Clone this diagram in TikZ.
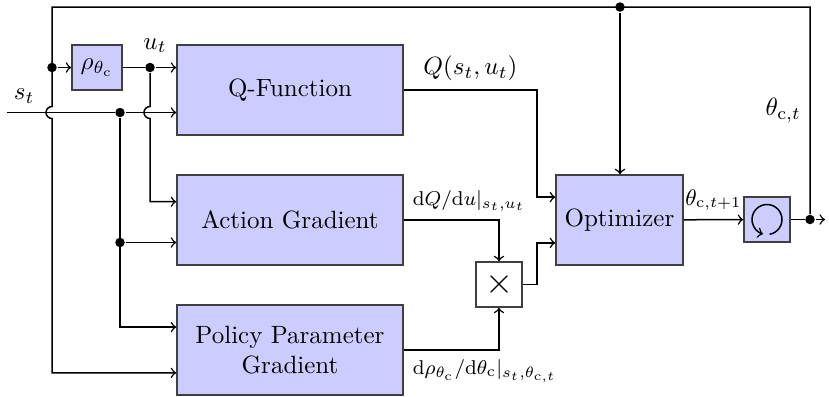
\documentclass[tikz,border=0pt]{standalone}
\usetikzlibrary{calc}

\begin{document}
\begin{tikzpicture}[x=0.4pt, y=-0.4pt, >=to, semithick,
    block/.style={draw=black!75, fill=blue!20, minimum width=90.4pt, minimum height=36pt, align=center, inner sep=2pt},
    smallblock/.style={block, minimum width=18.4pt, minimum height=18pt},
    junction/.style={circle, fill, inner sep=0pt, minimum size=3.8pt}]
    \useasboundingbox (0,0) rectangle (829,396);

    % Blocks
    \node[block] (qf) at (290,90) {Q-Function};
    \node[block] (ag) at (290,220) {Action Gradient};
    \node[block] (ppg) at (290,350) {Policy Parameter\\Gradient};
    \node[block, minimum width=50.8pt] (opt) at (619.5,220) {Optimizer};
    \node[smallblock, minimum width=20pt] (rho) at (97,67.5) {$\rho_{\theta_\mathrm{c}}$};
    \node[smallblock, fill=white] (mult) at (499,284.5) {\Large$\times$};
    \node[smallblock] (delay) at (767,219.5) {};

    % Junctions and end points
    \coordinate (sin) at (7,112.5);
    \coordinate (tl) at (52,7);
    \coordinate (tr) at (810,7);
    \coordinate (out) at (825,219.5);
    \coordinate (bend) at (537,90);
    \node[junction] (jrho) at (52,67.5) {};
    \node[junction, label={[xshift=2pt]above:$u_t$}] (ju) at (150,67.5) {};
    \node[junction] (js) at (120,112.5) {};
    \node[junction] (jag) at (120,242.5) {};
    \node[junction] (jtop) at (620,7) {};
    \node[junction] (jout) at (810,219.5) {};

    % Input ports
    \coordinate (agup) at ($(ag.west)!0.4!(ag.north west)$);
    \coordinate (ppgup) at ($(ppg.west)!0.5!(ppg.north west)$);
    \coordinate (ppglow) at ($(ppg.west)!0.5!(ppg.south west)$);
    \coordinate (optup) at ($(opt.west)!0.5!(opt.north west)$);
    \coordinate (optlow) at ($(opt.west)!0.5!(opt.south west)$);

    % State
    \draw[->] (sin) -- node[above, pos=0.16]{$s_t$} (js) -- (js -| qf.west);
    \draw[->] (js) -- (js |- ppgup) -- (ppgup);
    \draw[->] (jag) -- (jag -| ag.west);

    % Action
    \draw[->] (jrho) -- (rho);
    \draw (rho) -- (ju);
    \draw[->] (ju) -- (ju -| qf.west);
    \draw[->] (ju) -- ($(ju |- js)+(0,-6)$) arc[start angle=90, end angle=270, radius=2.4pt]
        -- (ju |- agup) -- (agup);

    % Parameter feedback
    \draw[->] (jout) -- node[left]{$\theta_{\mathrm{c},t}$} (tr) -- (tl)
        -- ($(tl |- js)+(0,-6)$) arc[start angle=90, end angle=270, radius=2.4pt]
        -- (tl |- ppglow) -- (ppglow);
    \draw[->] (jtop) -- (jtop |- opt.north);

    % Gradients
    \draw[->] (qf.east) -- node[above]{$Q(s_t,u_t)$} (bend) -- (bend |- optup) -- (optup);
    \draw[->] (ag.east) node[above right, font=\footnotesize]{$\mathrm{d}Q/\mathrm{d}u|_{s_t,u_t}$}
        -- (ag.east -| mult) -- (mult);
    \draw[->] (ppg.east) node[below right, font=\footnotesize]{$\mathrm{d}\rho_{\theta_\mathrm{c}}/\mathrm{d}\theta_\mathrm{c}|_{s_t,\theta_{\mathrm{c},t}}$}
        -- (ppg.east -| mult) -- (mult);
    \draw[->] (mult) -- (mult -| bend) -- (bend |- optlow) -- (optlow);

    % Update and delay
    \draw[->] (opt) -- node[above, font=\small]{$\theta_{\mathrm{c},t+1}$} (delay);
    \draw[->] ([shift={(-80:6pt)}]delay.center) arc[start angle=-80, end angle=255, radius=6pt];
    \draw (delay) -- (jout);
    \draw[->] (jout) -- (out);
\end{tikzpicture}
\end{document}
